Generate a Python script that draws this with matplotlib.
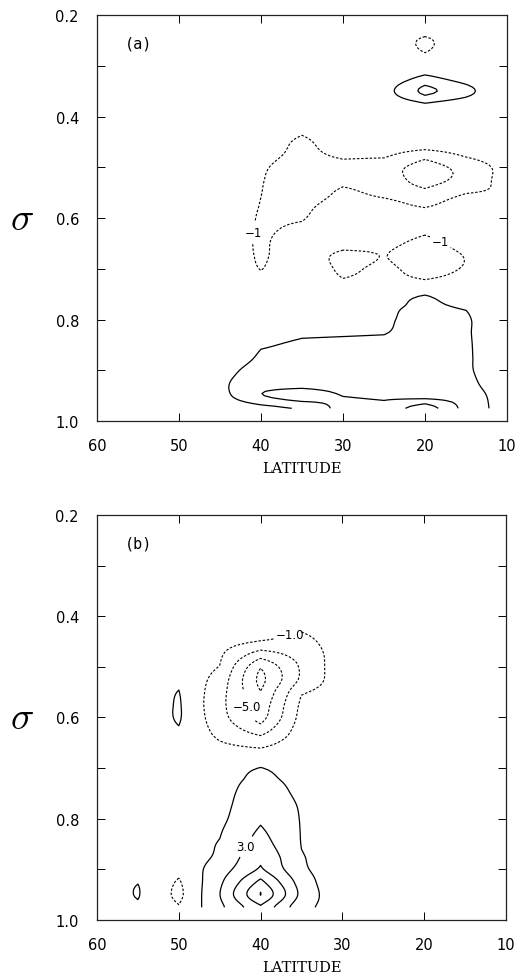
import matplotlib
matplotlib.use('Agg')
import matplotlib.pyplot as plt
import numpy as np

plt.rcParams['mathtext.fontset'] = 'cm'

# grid: latitude (deg, as drawn left to right) and sigma levels
lat = [60, 55, 50, 45, 40, 35, 30, 25, 20, 15, 10]
sigma = [0.200, 0.225, 0.250, 0.275, 0.300, 0.325, 0.350, 0.375,
         0.400, 0.425, 0.450, 0.475, 0.500, 0.525, 0.550, 0.575,
         0.600, 0.625, 0.650, 0.675, 0.700, 0.725, 0.750, 0.775,
         0.800, 0.825, 0.850, 0.875, 0.900, 0.925, 0.950, 0.975]

# (a) one row per sigma level, columns follow lat
field_a = [
    [0, 0, 0, 0, 0, 0, 0, 0, 0, 0, 0],
    [0, 0, 0, 0, 0, 0, 0, 0, -0.21, 0, 0],
    [0, 0, 0, 0, 0, 0, 0, 0, -1.25, 0, 0],
    [0, 0, 0, 0, 0, 0, 0, 0, -0.98, 0, 0],
    [0, 0, 0, 0, 0, 0, 0, 0, 0.2, 0, 0],
    [0, 0, 0, 0, 0, 0, 0, 0.3, 1.3, 0.6, 0],
    [0, 0, 0, 0, 0, 0, 0, 0.57, 2.3, 1.3, 0],
    [0, 0, 0, 0, 0, 0, 0, 0.3, 0.94, 0.5, 0],
    [0, 0, 0, 0, 0, -0.3, 0, 0, 0.3, 0, 0],
    [0, 0, 0, 0, -0.2, -0.73, -0.2, 0, 0, 0, 0],
    [0, 0, 0, 0, -0.3, -1.25, -0.3, -0.2, -0.1, -0.1, 0],
    [0, 0, 0, 0, -0.6, -1.345, -0.77, -0.8, -1.6, -0.835, -0.3],
    [0, 0, 0, 0, -0.85, -1.6, -1.35, -1.53, -2.43, -1.66, -0.595],
    [0, 0, 0, 0, -0.93, -1.8, -1.3, -1.5, -2.4, -1.69, -0.58],
    [0, 0, 0, 0, -0.98, -1.89, -0.72, -1.3, -1.775, -1.05, -0.8],
    [0, 0, 0, 0, -1.05, -1.34, -0.4, -0.55, -1.2, -0.3, -0.2],
    [0, 0, 0, 0, -1.15, -1.09, -0.2, -0.3, 0, 0, 0],
    [0, 0, 0, 0, -1.2, -0.7, -0.2, -0.4, -0.8, -0.3, 0],
    [0, 0, 0, 0, -1.25, -0.1, -0.49, -0.72, -1.3, -0.62, 0],
    [0, 0, 0, 0, -1.2, -0.15, -1.4, -0.95, -1.6, -0.95, 0],
    [0, 0, 0, 0, -1.05, 0, -1.3, -0.7, -1.5, -0.9, 0],
    [0, 0, 0, 0, -0.6, 0, -0.86, -0.5, -0.84, -0.5, 0],
    [0, 0, 0, 0, 0, 0, 0, 0.5, 0.94, 0.3, 0],
    [0, 0, 0, 0, 0, 0.3, 0.5, 0.815, 1.2, 0.9, 0],
    [0, 0, 0, 0, 0.3, 0.6, 0.75, 0.88, 1.3, 1.15, 0],
    [0, 0, 0, 0, 0.6, 0.85, 0.9, 0.95, 1.35, 1.15, 0],
    [0, 0, 0, 0, 0.9, 1.15, 1.2, 1.25, 1.4, 1.18, 0],
    [0, 0, 0, 0, 1.2, 1.3, 1.3, 1.35, 1.45, 1.2, 0],
    [0, 0, 0, 0.5, 1.55, 1.4, 1.4, 1.4, 1.5, 1.22, 0],
    [0, 0, 0, 0.8, 1.65, 1.45, 1.5, 1.5, 1.55, 1.43, 0],
    [0, 0, 0, 0.63, 1.95, 2.6, 1.97, 1.82, 1.58, 1.7, 0.3],
    [0, 0, 0, 0.3, 0.7, 1.1, 2.4, 2.27, 3.67, 1.6, 0.53],
]

# (b)
field_b = [
    [0, 0, 0, 0, 0, 0, 0, 0, 0, 0, 0],
    [0, 0, 0, 0, 0, 0, 0, 0, 0, 0, 0],
    [0, 0, 0, 0, 0, 0, 0, 0, 0, 0, 0],
    [0, 0, 0, 0, 0, 0, 0, 0, 0, 0, 0],
    [0, 0, 0, 0, 0, 0, 0, 0, 0, 0, 0],
    [0, 0, 0, 0, 0, 0, 0, 0, 0, 0, 0],
    [0, 0, 0, 0, 0, 0, 0, 0, 0, 0, 0],
    [0, 0, 0, 0, 0, 0, 0, 0, 0, 0, 0],
    [0, 0, 0, 0, 0, 0, 0, 0, 0, 0, 0],
    [0, 0, 0, 0, -0.3, -0.8, 0, 0, 0, 0, 0],
    [0, 0, 0, -0.3, -1.1, -1.6, 0, 0, 0, 0, 0],
    [0, 0, 0, -0.7, -4.0, -2.2, 0, 0, 0, 0, 0],
    [0, 0, 0.3, -1.05, -6.8, -2.7, 0.3, 0, 0, 0, 0],
    [0, 0, 0.68, -1.7, -7.6, -2.6, 0.3, 0, 0, 0, 0],
    [0, 0, 1.05, -2.2, -6.95, -1.2, 0, 0, 0, 0, 0],
    [0, -0.3, 1.2, -2.4, -6.3, -0.6, 0, 0, 0, 0, 0],
    [0, -0.3, 1.2, -2.2, -5.8, -0.3, 0, 0, 0, 0, 0],
    [0, 0, 0.85, -1.6, -4.0, 0, 0, 0, 0, 0, 0],
    [0, 0, 0.3, -0.9, -1.7, 0, 0, 0, 0, 0, 0],
    [0, 0, 0, -0.3, -0.2, 0, 0, 0, 0, 0, 0],
    [0, 0, 0, 0.3, 1.05, 0.3, 0, 0, 0, 0, 0],
    [0, 0, 0, 0.5, 1.4, 0.6, 0, 0, 0, 0, 0],
    [0, 0, 0, 0.5, 1.8, 0.7, 0, 0, 0, 0, 0],
    [0, 0, 0, 0.5, 2.2, 0.85, 0, 0, 0, 0, 0],
    [0, 0, 0, 0.575, 2.7, 0.9, 0, 0, 0, 0, 0],
    [0, 0, 0, 0.85, 3.3, 0.92, 0, 0, 0, 0, 0],
    [0, 0, 0, 1.1, 3.9, 0.95, 0, 0, 0, 0, 0],
    [0, 0, -0.2, 1.3, 4.7, 1.1, 0, 0, 0, 0, 0],
    [0, 0, -0.5, 2.0, 5.3, 1.3, -0.3, 0, 0, 0, 0],
    [0, 0.92, -1.2, 2.6, 7.54, 2.0, -0.8, 0, 0, 0, 0],
    [0, 1.12, -1.48, 2.95, 9.05, 2.4, -0.8, 0, 0, 0, 0],
    [0, 0.745, -0.9, 2.5, 6.72, 1.5, 0, 0, 0, 0, 0],
]

neg_a = [-2, -1]
pos_a = [1, 2, 3]
neg_b = [-7, -5, -3, -1]
pos_b = [1, 3, 5, 7, 9]

lat_ticks = [60, 50, 40, 30, 20, 10]
sigma_ticks = [0.2, 0.4, 0.6, 0.8, 1.0]
sigma_minor = [0.3, 0.5, 0.7, 0.9]


def resample_weights(n, factor, cubic):
    # resampling matrix onto a finer index grid; cubic = Catmull-Rom,
    # otherwise plain linear. Both pass through the grid values.
    t = np.linspace(0, n - 1, (n - 1) * factor + 1)
    m = np.zeros((len(t), n))
    for i, ti in enumerate(t):
        base = int(np.floor(ti))
        for k in range(base - 1, base + 3):
            x = abs(ti - k)
            if cubic:
                if x <= 1:
                    w = 1.5 * x ** 3 - 2.5 * x ** 2 + 1
                elif x < 2:
                    w = -0.5 * x ** 3 + 2.5 * x ** 2 - 4 * x + 2
                else:
                    w = 0.0
            else:
                w = max(0.0, 1 - x)
            m[i, min(max(k, 0), n - 1)] += w
    return m, t


def smooth_grid(field, factor=6):
    z = np.array(field, dtype=float)
    my, ty = resample_weights(len(sigma), factor, cubic=True)
    mx, tx = resample_weights(len(lat), factor, cubic=False)
    xs = np.interp(tx, np.arange(len(lat)), lat)
    ys = np.interp(ty, np.arange(len(sigma)), sigma)
    return xs, ys, my @ z @ mx.T


def fmt_int(v):
    return f'{v:.0f}'.replace('-', '\u2212')


def fmt_one(v):
    return f'{v:.1f}'.replace('-', '\u2212')


def draw_panel(ax, field, neg, pos, tag, fmt, neg_at, pos_at):
    xs, ys, z = smooth_grid(field)
    cn = ax.contour(xs, ys, z, levels=neg, colors='k', linewidths=0.8,
                    linestyles=[(0, (2.2, 1.6))] * len(neg))
    cp = ax.contour(xs, ys, z, levels=pos, colors='k', linewidths=0.9,
                    linestyles='solid')
    texts = []
    if neg_at:
        texts += ax.clabel(cn, fmt=fmt, fontsize=8.5, manual=neg_at,
                           inline_spacing=3)
    if pos_at:
        texts += ax.clabel(cp, fmt=fmt, fontsize=8.5, manual=pos_at,
                           inline_spacing=3)
    for t in texts:
        t.set_rotation(0)

    ax.set_xlim(60, 10)
    ax.set_ylim(1.0, 0.2)
    ax.set_xticks(lat_ticks)
    ax.set_xticklabels([str(v) for v in lat_ticks])
    ax.set_yticks(sigma_ticks)
    ax.set_yticklabels([f'{v:.1f}' for v in sigma_ticks])
    ax.set_yticks(sigma_minor, minor=True)
    ax.tick_params(which='both', direction='in', length=5.5, width=0.7,
                   top=True, right=True, labelsize=10.5)
    ax.tick_params(axis='y', which='major', pad=13)
    ax.tick_params(axis='x', which='major', pad=12)
    for s in ax.spines.values():
        s.set_linewidth(0.9)
        s.set_color('#222222')
    ax.set_xlabel('LATITUDE', family='DejaVu Serif', fontsize=10.5,
                  labelpad=6)
    ax.text(-0.183, 0.5, r'$\sigma$', transform=ax.transAxes, fontsize=28,
            ha='center', va='center')
    ax.text(0.068, 0.931, tag, transform=ax.transAxes, fontsize=11,
            family='DejaVu Sans Mono', ha='left', va='center')


fig = plt.figure(figsize=(5.19, 9.78), dpi=100)
ax_a = fig.add_axes([0.1869, 0.5685, 0.79, 0.4151])
ax_b = fig.add_axes([0.1869, 0.0583, 0.788, 0.4141])

draw_panel(ax_a, field_a, neg_a, pos_a, '(a)', fmt_int,
           [(40.6, 0.63), (18.3, 0.652)], None)
draw_panel(ax_b, field_b, neg_b, pos_b, '(b)', fmt_one,
           [(36.4, 0.436), (41.5, 0.578)], [(41.8, 0.855)])

fig.savefig('out.png', dpi=100)
